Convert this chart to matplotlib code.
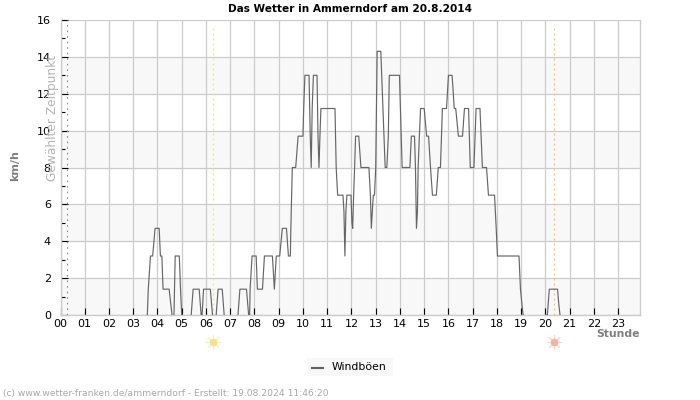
import numpy as np
from matplotlib import pyplot as plt
from matplotlib.patches import Rectangle

nan = float("nan")

stunden = [
    3.58, 3.62, 3.71, 3.80, 3.90, 4.07, 4.12, 4.18, 4.23, 4.48, 4.60, 4.62,
    4.68, 4.73, 4.90, 4.95, 5.00, 5.02,
    5.39, 5.47, 5.72, 5.80, 5.82,
    5.84, 5.90, 6.18, 6.27, 6.29,
    6.42, 6.50, 6.67, 6.75, 6.77,
    7.32, 7.40, 7.67, 7.76, 7.78,
    7.80, 7.82, 7.90, 8.07, 8.12, 8.16, 8.33, 8.41, 8.74, 8.82, 8.90, 9.04,
    9.15, 9.32, 9.40, 9.48, 9.50, 9.56, 9.70, 9.80, 10.00, 10.03, 10.08, 10.25,
    10.30, 10.34, 10.38, 10.43, 10.58, 10.62, 10.66, 10.70, 10.74, 11.32, 11.37,
    11.43, 11.65, 11.69, 11.73, 11.77, 11.81, 11.98, 12.02, 12.05, 12.09, 12.13,
    12.17, 12.30, 12.39, 12.72, 12.78, 12.82, 12.90, 12.95, 13.00, 13.06, 13.21,
    13.30, 13.39, 13.46, 13.52, 13.56, 13.98, 14.05, 14.09, 14.41, 14.47, 14.52,
    14.60, 14.64, 14.68, 14.72, 14.75, 14.80, 14.85, 15.00, 15.10, 15.18, 15.26,
    15.34, 15.50, 15.58, 15.67, 15.75, 15.92, 16.00, 16.15, 16.24, 16.30, 16.41,
    16.58, 16.66, 16.83, 16.90, 17.05, 17.14, 17.30, 17.40, 17.57, 17.65, 17.90,
    17.97, 18.02, 18.91, 18.97, 19.03, 19.08, 19.10,
    19.95, 20.00, 20.08, 20.16, 20.50, 20.55, 20.60, 20.62,
]
windboeen = [
    0, 1.4, 3.2, 3.2, 4.7, 4.7, 3.2, 3.2, 1.4, 1.4, 0, nan,
    0, 3.2, 3.2, 1.4, 0, nan,
    0, 1.4, 1.4, 0, nan,
    0, 1.4, 1.4, 0, nan,
    0, 1.4, 1.4, 0, nan,
    0, 1.4, 1.4, 0, nan,
    0, 1.4, 3.2, 3.2, 1.4, 1.4, 1.4, 3.2, 3.2, 1.4, 3.2, 3.2,
    4.7, 4.7, 3.2, 3.2, 4.7, 8.0, 8.0, 9.7, 9.7, 11.2, 13.0, 13.0,
    9.7, 8.0, 11.2, 13.0, 13.0, 9.7, 8.0, 9.7, 11.2, 11.2, 8.0,
    6.5, 6.5, 5.6, 3.2, 5.6, 6.5, 6.5, 5.0, 4.7, 6.5, 8.0,
    9.7, 9.7, 8.0, 8.0, 6.5, 4.7, 6.5, 6.5, 8.0, 14.3, 14.3,
    11.2, 8.0, 8.0, 9.7, 13.0, 13.0, 9.7, 8.0, 8.0, 9.7, 9.7,
    9.7, 8.0, 4.7, 5.6, 8.0, 9.7, 11.2, 11.2, 9.7, 9.7, 8.0,
    6.5, 6.5, 8.0, 8.0, 11.2, 11.2, 13.0, 13.0, 11.2, 11.2, 9.7,
    9.7, 11.2, 11.2, 8.0, 8.0, 11.2, 11.2, 8.0, 8.0, 6.5, 6.5,
    4.7, 3.2, 3.2, 1.4, 0.6, 0, nan,
    nan, 0, 0, 1.4, 1.4, 0.6, 0, nan,
]
x_labels = ["%02d" % h for h in range(24)]
y_labels = [0, 2, 4, 6, 8, 10, 12, 14, 16]
baender = [(0, 2), (4, 6), (8, 10), (12, 14)]
sonnenaufgang = 6.3
sonnenuntergang = 20.35
gewaehlt = 0.25

fig = plt.figure(figsize=(7, 4), dpi=100)
ax = fig.add_axes([60.5 / 700, 1 - 315 / 400, (640 - 60.5) / 700, (315 - 20) / 400])
ax.set_xlim(0, 23.9)
ax.set_ylim(0, 16)

for unten, oben in baender:
    ax.axhspan(unten, oben, color="#f8f8f8", lw=0, zorder=0)
ax.grid(True, color="#cccccc", lw=0.9, zorder=1)
ax.set_axisbelow(True)

ax.plot(stunden, windboeen, color="#666666", lw=0.85, zorder=3, label="Windböen")
ax.plot([gewaehlt, gewaehlt], [0, 16], color="#8c8c8c", lw=0.8, ls=(0, (1.5, 3.5)), zorder=2)
ax.plot([sonnenaufgang, sonnenaufgang], [0, 15.7], color="#f5f040", lw=0.9, ls=(0, (1.5, 2.5)), zorder=2)
ax.plot([sonnenuntergang, sonnenuntergang], [0, 15.7], color="#f0c080", lw=0.9, ls=(0, (1.5, 2.5)), zorder=2)

ax.set_xticks(range(24))
ax.set_xticklabels(x_labels)
ax.set_yticks(y_labels)
ax.set_yticks(range(1, 16, 2), minor=True)
ax.tick_params(axis="both", which="major", direction="in", length=5, width=0.8, color="black",
               labelsize=8, pad=3, labelcolor="black")
ax.tick_params(axis="y", which="minor", direction="in", length=3, width=0.8, color="black")
ax.tick_params(axis="y", which="major", pad=7)
for s in ax.spines.values():
    s.set_color("#cccccc")
    s.set_linewidth(1)
ax.spines["top"].set_visible(False)

# Sonnensymbole unter der Achse
for h, farbe, kern in [(sonnenaufgang, "#fdf0c0", "#fbe090"), (sonnenuntergang, "#fdd8cc", "#fbb0a0")]:
    ax.plot([h], [-1.45], marker=(8, 2, 0), ms=11, mew=0.8, mec=farbe, clip_on=False, zorder=4)
    ax.plot([h], [-1.45], marker="o", ms=5.5, color=kern, mew=0, clip_on=False, zorder=5)

fig.text(350 / 700, 1 - 8.5 / 400, "Das Wetter in Ammerndorf am 20.8.2014", ha="center", va="center",
         fontsize=7.6, fontweight="bold", color="black")
fig.text(15.5 / 700, 1 - 166 / 400, "km/h", rotation=90, ha="center", va="center",
         fontsize=8, fontweight="bold", color="#808080")
fig.text(52.5 / 700, 1 - 118 / 400, "Gewählter Zeitpunkt", rotation=90, ha="center", va="center",
         fontsize=8.8, color="#b4b4b4")
fig.text(639.5 / 700, 1 - 334 / 400, "Stunde", ha="right", va="center",
         fontsize=7.8, fontweight="bold", color="#808080")
fig.text(3 / 700, 1 - 393.5 / 400, "(c) www.wetter-franken.de/ammerndorf - Erstellt: 19.08.2024 11:46:20",
         ha="left", va="center", fontsize=6.6, color="#a8a8a8")

fig.patches.append(Rectangle((307 / 700, 1 - 376 / 400), 86 / 700, 18 / 400, transform=fig.transFigure,
                             facecolor="#f8f8f8", edgecolor="none"))
fig.lines.append(plt.Line2D([312 / 700, 323 / 700], [1 - 367.5 / 400] * 2, transform=fig.transFigure,
                            color="#606060", lw=1.5))
fig.text(332 / 700, 1 - 366.5 / 400, "Windböen", ha="left", va="center", fontsize=7.8, color="black")

fig.savefig("out.png", dpi=100)
